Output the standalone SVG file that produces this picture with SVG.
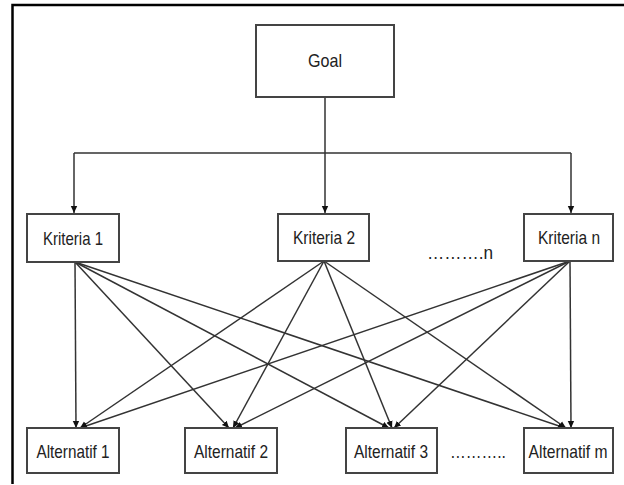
<svg xmlns="http://www.w3.org/2000/svg" width="624" height="485" viewBox="0 0 624 485">
<style>
.box{fill:#fff;stroke:#444;stroke-width:2}
.lbl{font-family:"Liberation Sans",Arial,sans-serif;font-size:19px;fill:#222;text-anchor:middle}
.ln{fill:none;stroke:#333;stroke-width:1.5}
.frame{fill:none;stroke:#000;stroke-width:2.5}
</style>
<defs>
<marker id="ah" markerWidth="8" markerHeight="8" refX="7" refY="4" orient="auto" markerUnits="userSpaceOnUse">
<path d="M0,0.8 L7,4 L0,7.2 Z" fill="#111"/>
</marker>
</defs>
<rect width="624" height="485" fill="#fff"/>
<path class="frame" d="M12.5,484 V5 H624"/>
<g id="connectors">
<path class="ln" d="M325,97 V153 M74,153 H571"/>
<path class="ln" marker-end="url(#ah)" d="M74,153 V213"/>
<path class="ln" marker-end="url(#ah)" d="M325,153 V213"/>
<path class="ln" marker-end="url(#ah)" d="M571,153 V213"/>
<path class="ln" marker-end="url(#ah)" d="M75,262 L76,428"/>
<path class="ln" marker-end="url(#ah)" d="M75,262 L229,428"/>
<path class="ln" marker-end="url(#ah)" d="M75,262 L389,428"/>
<path class="ln" marker-end="url(#ah)" d="M75,262 L565,428"/>
<path class="ln" marker-end="url(#ah)" d="M324,261 L80,428"/>
<path class="ln" marker-end="url(#ah)" d="M324,261 L233,428"/>
<path class="ln" marker-end="url(#ah)" d="M324,261 L392,428"/>
<path class="ln" marker-end="url(#ah)" d="M324,261 L566,428"/>
<path class="ln" marker-end="url(#ah)" d="M570,261 L80,428"/>
<path class="ln" marker-end="url(#ah)" d="M570,261 L235,428"/>
<path class="ln" marker-end="url(#ah)" d="M570,261 L394,428"/>
<path class="ln" marker-end="url(#ah)" d="M570,261 L571,428"/>
</g>
<g id="goal"><rect class="box" x="256" y="25" width="138" height="72"/><text class="lbl" x="325" y="67" textLength="34" lengthAdjust="spacingAndGlyphs">Goal</text></g>
<g id="kriteria1"><rect class="box" x="27" y="214" width="92" height="48"/><text class="lbl" x="73" y="245" textLength="60" lengthAdjust="spacingAndGlyphs">Kriteria 1</text></g>
<g id="kriteria2"><rect class="box" x="278" y="214" width="91" height="47"/><text class="lbl" x="324" y="244" textLength="62" lengthAdjust="spacingAndGlyphs">Kriteria 2</text></g>
<g id="kriterian"><rect class="box" x="524" y="214" width="89" height="47"/><text class="lbl" x="569" y="244" textLength="62" lengthAdjust="spacingAndGlyphs">Kriteria n</text></g>
<g id="dots-n"><text class="lbl" x="460" y="259" textLength="66" lengthAdjust="spacingAndGlyphs">……….n</text></g>
<g id="alt1"><rect class="box" x="27" y="428" width="92" height="45"/><text class="lbl" x="73" y="458" textLength="73" lengthAdjust="spacingAndGlyphs">Alternatif 1</text></g>
<g id="alt2"><rect class="box" x="185" y="428" width="92" height="45"/><text class="lbl" x="231" y="458" textLength="74" lengthAdjust="spacingAndGlyphs">Alternatif 2</text></g>
<g id="alt3"><rect class="box" x="346" y="428" width="91" height="45"/><text class="lbl" x="391" y="458" textLength="74" lengthAdjust="spacingAndGlyphs">Alternatif 3</text></g>
<g id="dots-m"><text class="lbl" x="478" y="458" textLength="56" lengthAdjust="spacingAndGlyphs">………..</text></g>
<g id="altm"><rect class="box" x="524" y="428" width="89" height="45"/><text class="lbl" x="568" y="458" textLength="79" lengthAdjust="spacingAndGlyphs">Alternatif m</text></g>
</svg>
